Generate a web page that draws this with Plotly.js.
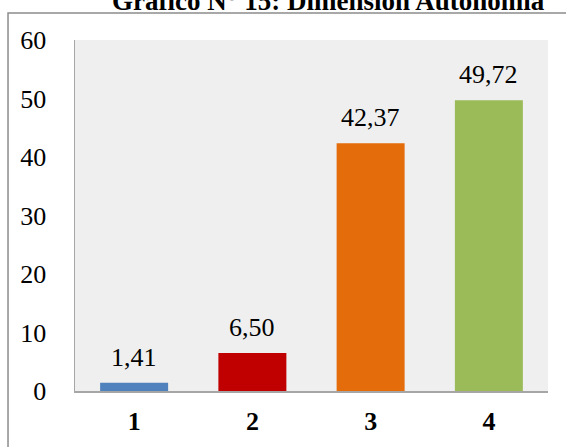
<!DOCTYPE html>
<html>
<head>
<meta charset="utf-8">
<script src="https://cdn.plot.ly/plotly-3.0.1.min.js"></script>
<style>html,body{margin:0;padding:0;background:#fff;}#chart{width:566px;height:447px;}</style>
</head>
<body>
<div id="chart"></div>
<script>
var categories = ["1", "2", "3", "4"];
var values = [1.41, 6.50, 42.37, 49.72];
var barColors = ["#4f81bd", "#c00000", "#e46c0a", "#9bbb59"];
var yTicks = [0, 10, 20, 30, 40, 50, 60];
var titleText = "Gráfico N° 15: Dimensión Autonomía";

var serif = "'Liberation Serif', 'Times New Roman', serif";

var trace = {
  type: "bar",
  x: categories,
  y: values,
  marker: {color: barColors},
  hoverinfo: "none"
};

var ann = values.map(function (v, i) {
  return {
    x: i, y: v, xref: "x", yref: "y",
    text: v.toFixed(2).replace(".", ","),
    showarrow: false, yanchor: "bottom", yshift: 9,
    font: {family: serif, size: 26, color: "#000"}
  };
});
ann.push({
  xref: "paper", yref: "paper", x: 0.535, y: 1.063,
  xanchor: "center", yanchor: "bottom", showarrow: false,
  text: titleText,
  font: {family: serif, size: 27, color: "#000", weight: "bold"}
});

var layout = {
  width: 566, height: 447,
  margin: {l: 75, r: 18, t: 40, b: 56},
  paper_bgcolor: "#ffffff",
  plot_bgcolor: "#efefef",
  showlegend: false,
  bargap: 0.425,
  xaxis: {
    type: "category",
    range: [-0.5, 3.5],
    showgrid: false, zeroline: false,
    showline: true, linecolor: "#a6a6a6", linewidth: 1.5,
    ticks: "", ticklabelstandoff: 6,
    tickfont: {family: serif, size: 26, color: "#000", weight: "bold"}
  },
  yaxis: {
    range: [0, 60],
    tickvals: yTicks,
    ticktext: yTicks.map(String),
    showgrid: false, zeroline: false,
    showline: true, linecolor: "#a6a6a6", linewidth: 1.5,
    ticks: "", ticklabelstandoff: 22,
    tickfont: {family: serif, size: 26, color: "#000"}
  },
  annotations: ann,
  shapes: [{
    type: "rect", xref: "paper", yref: "paper",
    x0: -0.1416, x1: 1.05, y0: -0.17, y1: 1.077,
    line: {color: "#8c8c8c", width: 1.5}, layer: "below"
  }]
};

Plotly.newPlot("chart", [trace], layout, {displayModeBar: false, staticPlot: true});
</script>
</body>
</html>
